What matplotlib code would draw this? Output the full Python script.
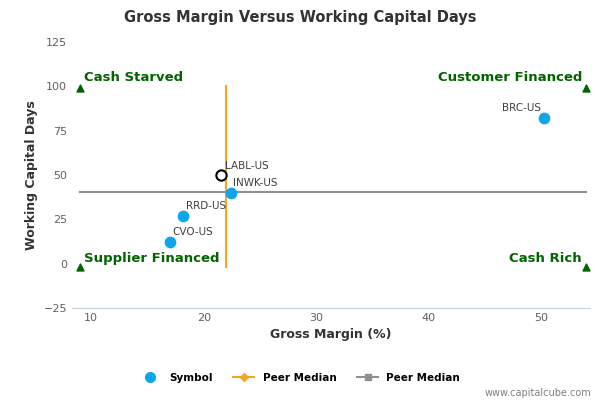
import matplotlib.pyplot as plt
from matplotlib.lines import Line2D

names = ["BRC-US", "INWK-US", "RRD-US", "CVO-US"]
gm = [50.2, 22.4, 18.2, 17.0]
wcd = [82, 40, 27, 12]
target_name = "LABL-US"
target_gm, target_wcd = 21.5, 50
med_gm, med_wcd = 22.0, 40.5
corner_x = [9, 54, 9, 54]
corner_y = [99, 99, -2, -2]
corner_lbl = ["Cash Starved", "Customer Financed", "Supplier Financed", "Cash Rich"]

fig = plt.figure(figsize=(6, 4), dpi=100)
ax = fig.add_axes([0.12, 0.23, 0.863, 0.665])
ax.set_xlim(8.3, 54.3)
ax.set_ylim(-25, 125)
ax.set_yticks([-25, 0, 25, 50, 75, 100, 125])
ax.set_xticks([10, 20, 30, 40, 50])
for s in ax.spines.values():
    s.set_visible(False)
ax.spines["bottom"].set_visible(True)
ax.spines["bottom"].set_color("#c0d0e0")
ax.tick_params(axis="both", length=0, labelsize=8, colors="#606060")

ax.plot([med_gm, med_gm], [-2, 100], color="#f5a623", lw=1.5, zorder=2)
ax.plot([9, 54], [med_wcd, med_wcd], color="#909090", lw=1.5, zorder=2)
ax.scatter(gm, wcd, s=55, color="#0ea5e9", zorder=3)
ax.scatter([target_gm], [target_wcd], s=55, facecolor="white", edgecolor="black", lw=1.5, zorder=4)
for n, x, y in zip(names, gm, wcd):
    if n == "BRC-US":
        ax.annotate(n, (x, y), xytext=(-2, 5), textcoords="offset points", ha="right", fontsize=7.5, color="#404040")
    else:
        ax.annotate(n, (x, y), xytext=(2, 5), textcoords="offset points", ha="left", fontsize=7.5, color="#404040")
ax.annotate(target_name, (target_gm, target_wcd), xytext=(3, 4), textcoords="offset points", fontsize=7.5, color="#404040")

ax.scatter(corner_x, corner_y, marker="^", s=25, color="#006400", zorder=3)
ax.text(9.4, 103, corner_lbl[0], color="#006400", fontsize=9.5, fontweight="bold", ha="left")
ax.text(53.6, 103, corner_lbl[1], color="#006400", fontsize=9.5, fontweight="bold", ha="right")
ax.text(9.4, 1, corner_lbl[2], color="#006400", fontsize=9.5, fontweight="bold", ha="left")
ax.text(53.6, 1, corner_lbl[3], color="#006400", fontsize=9.5, fontweight="bold", ha="right")

ax.set_xlabel("Gross Margin (%)", fontsize=9, fontweight="bold", color="#333333")
ax.set_ylabel("Working Capital Days", fontsize=9, fontweight="bold", color="#333333")
fig.suptitle("Gross Margin Versus Working Capital Days", y=0.975, fontsize=10.5, fontweight="bold", color="#333333")

handles = [
    Line2D([], [], marker="o", ls="", color="#0ea5e9", markersize=7),
    Line2D([], [], marker="D", color="#f5a623", markersize=4),
    Line2D([], [], marker="s", color="#909090", markersize=5),
]
fig.legend(handles, ["Symbol", "Peer Median", "Peer Median"], loc="lower center",
           bbox_to_anchor=(0.5, 0.02), ncol=3, frameon=False, prop={"size": 7.5, "weight": "bold"})
fig.text(0.985, 0.01, "www.capitalcube.com", ha="right", fontsize=7, color="#808080")
fig.savefig("out.png")
